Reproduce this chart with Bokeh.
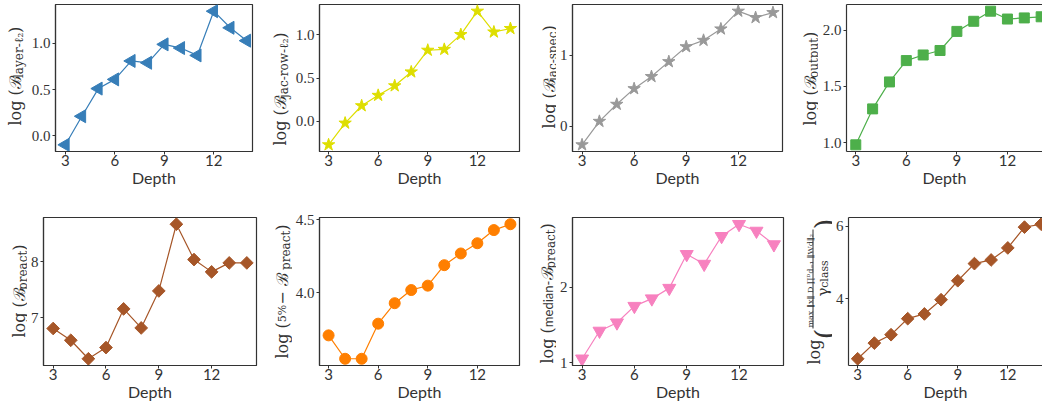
import numpy as np
from bokeh.plotting import figure
from bokeh.layouts import row, column
from bokeh.models import FixedTicker, LinearAxis, Range1d, NumeralTickFormatter, GlobalInlineStyleSheet
from bokeh.core.properties import value
from bokeh.embed import file_html
from bokeh.resources import INLINE

SERIF = "Liberation Serif"
LSERIF = "DejaVu Serif"
SANS = "Lato"
INK = "#333333"

# ---------------- data ----------------
depth = [3, 4, 5, 6, 7, 8, 9, 10, 11, 12, 13, 14]
x_ticks = [3, 6, 9, 12]

layer_l2 = [-0.10, 0.21, 0.51, 0.61, 0.81, 0.79, 0.99, 0.95, 0.87, 1.35, 1.17, 1.03]
jac_row_l2 = [-0.27, -0.02, 0.18, 0.30, 0.41, 0.57, 0.82, 0.83, 1.00, 1.27, 1.03, 1.07]
jac_spec = [-0.26, 0.07, 0.31, 0.53, 0.70, 0.91, 1.12, 1.21, 1.37, 1.62, 1.53, 1.60]
output_b = [0.98, 1.30, 1.54, 1.73, 1.78, 1.82, 1.99, 2.08, 2.17, 2.10, 2.11, 2.12]
preact = [6.81, 6.60, 6.27, 6.47, 7.16, 6.82, 7.48, 8.67, 8.04, 7.82, 7.98, 7.98]
pct5_preact = [3.71, 3.55, 3.55, 3.79, 3.93, 4.02, 4.05, 4.19, 4.27, 4.34, 4.43, 4.47]
median_preact = [1.05, 1.42, 1.53, 1.75, 1.85, 1.99, 2.44, 2.31, 2.68, 2.84, 2.75, 2.57]
margin_bound = [2.36, 2.79, 3.02, 3.46, 3.59, 3.98, 4.50, 4.97, 5.07, 5.40, 5.97, 6.05]

y_ticks_1 = [0.0, 0.5, 1.0]
y_ticks_2 = [0.0, 0.5, 1.0]
y_ticks_3 = [0, 1]
y_ticks_4 = [1.0, 1.5, 2.0]
y_ticks_5 = [7, 8]
y_ticks_6 = [3.5, 4.0, 4.5]
y_ticks_7 = [1, 2]
y_ticks_8 = [4, 6]

colors = ["#377eb8", "#dede00", "#999999", "#4daf4a",
          "#a65628", "#ff7f00", "#f781bf", "#a65628"]

ROW1 = (0, 200, 4, 151)      # top, height, frame top, frame bottom (window px)
ROW2 = (200, 203, 217, 365)

# approximate advance widths (em) used to chain the label pieces
W_SERIF = {'l': .320, 'o': .602, 'g': .640, ' ': .318, '(': .391, ')': .391, 'ℬ': .70,
           'a': .596, 'y': .565, 'e': .592, 'r': .478, '-': .338, 'ℓ': .45, '₂': .40,
           'j': .320, 'c': .560, 'w': .856, 's': .513, 'p': .640, 'u': .644, 't': .402,
           '%': .950, '5': .636, '−': .838, 'γ': .58, 'n': .644}
W_SANS = {'m': .87, 'e': .53, 'd': .58, 'i': .24, 'a': .5, 'n': .56, '-': .36}


def text_len(text, size, font):
    table = W_SANS if font == SANS else W_SERIF
    return sum(table.get(ch, .6) for ch in text) * size


def chain(start, items):
    """items: (text, baseline_x, size[, font]) placed one after another upward."""
    out = []
    y = start
    for it in items:
        text, bx, sz = it[:3]
        font = it[3] if len(it) > 3 else LSERIF
        out.append((text, bx, y, sz, font))
        y -= text_len(text, sz, font)
    return out


def pad_range(vals, frac=0.05):
    lo, hi = min(vals), max(vals)
    d = hi - lo
    return lo - frac * d, hi + frac * d


def strip(left, width, rowgeom, pieces, bar=None):
    """Blank figure whose data coordinates equal window pixels; holds a y label."""
    top, height, ftop, fbot = rowgeom
    s = figure(width=width, height=height, output_backend="svg", toolbar_location=None,
               x_range=Range1d(left, left + width), y_range=Range1d(fbot, ftop),
               x_axis_location=None, y_axis_location=None,
               min_border_left=0, min_border_right=0,
               min_border_top=ftop - top, min_border_bottom=top + height - fbot)
    s.outline_line_color = None
    s.xgrid.visible = False
    s.ygrid.visible = False
    for text, xw, yw, sz, font in pieces:
        s.text(x=[xw], y=[yw], text=[text], angle=np.pi / 2,
               text_font=value(font), text_font_size=value(f"{sz}px"),
               text_color=INK, text_align="left", text_baseline="alphabetic",
               level="overlay")
    if bar is not None:
        bx, by0, by1 = bar
        s.segment(x0=[bx], y0=[by0], x1=[bx], y1=[by1], line_color=INK, line_width=1)
    return s


def panel(vals, color, marker, size, angle, yticks, fmt, width, mbl, mbr, rowgeom, xr,
          clipped=False):
    top, height, ftop, fbot = rowgeom
    y0, y1 = pad_range(vals)
    p = figure(width=width, height=height, output_backend="svg", toolbar_location=None,
               x_range=Range1d(*xr), y_range=Range1d(y0, y1),
               min_border_left=mbl, min_border_right=mbr,
               min_border_top=ftop - top, min_border_bottom=top + height - fbot)
    p.xgrid.visible = False
    p.ygrid.visible = False
    xa = p.below[0]
    ya = p.left[0]
    for ax in (xa, ya):
        ax.major_tick_out = 3
        ax.major_tick_in = 0
        ax.minor_tick_out = 0
        ax.minor_tick_in = 0
        ax.axis_line_color = INK
        ax.axis_line_width = 1.2
        ax.major_tick_line_color = INK
        ax.major_label_text_color = INK
        ax.major_label_text_font_size = "15px"
    xa.ticker = FixedTicker(ticks=x_ticks)
    xa.major_label_text_font = SANS
    xa.major_label_standoff = 0
    xa.axis_label = "Depth"
    xa.axis_label_text_font = SANS
    xa.axis_label_text_font_style = "normal"
    xa.axis_label_text_font_size = "16px"
    xa.axis_label_text_color = INK
    xa.axis_label_standoff = -1
    ya.ticker = FixedTicker(ticks=yticks)
    ya.formatter = NumeralTickFormatter(format=fmt)
    ya.major_label_text_font = SERIF
    ya.major_label_standoff = 2

    if clipped:
        p.outline_line_color = None
        topax = LinearAxis(ticker=FixedTicker(ticks=[]), major_label_text_font_size="0px",
                           major_tick_out=0, major_tick_in=0, minor_tick_out=0,
                           minor_tick_in=0, major_label_standoff=0,
                           axis_line_color=INK, axis_line_width=1.2)
        p.add_layout(topax, "above")
    else:
        p.outline_line_color = INK
        p.outline_line_width = 1.2

    p.line(depth, vals, line_color=color, line_width=1.2)
    p.scatter(depth, vals, marker=marker, size=size, angle=angle,
              fill_color=color, line_color=color, line_width=1)
    return p


XR = (2.45, 14.55)
XR_CLIP = (2.45, 14.08)
M = 16  # main label size
S = 12  # subscript size

# ---------------- row 1 ----------------
s1 = strip(0, 28, ROW1, chain(125, [("log (ℬ", 15, M), ("layer-ℓ₂", 18, S), (")", 15, M)]))
p1 = panel(layer_l2, colors[0], "triangle", 13, np.pi / 2, y_ticks_1, "0.0",
           234, 26, 10, ROW1, (2.40, 14.35))
s2 = strip(262, 30, ROW1, chain(145, [("log (ℬ", 280, M), ("jac-row-ℓ₂", 283, S), (")", 280, M)]))
p2 = panel(jac_row_l2, colors[1], "star", 13, 0, y_ticks_2, "0.0",
           236, 26, 9, ROW1, XR)
s3 = strip(528, 28, ROW1, chain(128, [("log (ℬ", 549, M), ("jac-spec", 552, S), (")", 549, M)]))
p3 = panel(jac_spec, colors[2], "star", 13, 0, y_ticks_3, "0",
           234, 13, 8, ROW1, XR)
s4 = strip(790, 28, ROW1, chain(125, [("log (ℬ", 810, M), ("output", 813, S), (")", 810, M)]))
p4 = panel(output_b, colors[3], "square", 10, 0, y_ticks_4, "0.0",
           224, 28, 0, ROW1, XR_CLIP, clipped=True)

# ---------------- row 2 ----------------
s5 = strip(0, 27, ROW2, chain(337, [("log (ℬ", 19, M), ("preact", 22, S), (")", 19, M)]))
p5 = panel(preact, colors[4], "square", 9, np.pi / 4, y_ticks_5, "0",
           235, 14, 6, ROW2, XR)
s6 = strip(262, 30, ROW2, chain(358, [("log (", 282, M), ("5%", 282, 11), (" − ℬ", 282, M),
                                      ("preact", 285, S), (")", 282, M)]))
p6 = panel(pct5_preact, colors[5], "circle", 11, 0, y_ticks_6, "0.0",
           236, 26, 9, ROW2, XR)
s7 = strip(528, 28, ROW2, chain(363, [("log (", 547, M), ("median-", 547, 13, SANS), ("ℬ", 547, M),
                                      ("preact", 550, S), (")", 547, M)]))
p7 = panel(median_preact, colors[6], "inverted_triangle", 13, 0, y_ticks_7, "0",
           234, 13, 7, ROW2, XR)
s8 = strip(790, 42, ROW2,
           chain(364, [("log", 814, M), ("(", 825, 28)])
           + [("max ‖x‖ D ∏ᴰd₌₁ ‖Wd‖₂", 810, 327, 8, LSERIF)]
           + chain(296, [("γ", 822, 15), ("class", 824, 11)])
           + [(")", 825, 229, 28, LSERIF)],
           bar=(812.5, 328, 229))
p8 = panel(margin_bound, colors[7], "square", 9, np.pi / 4, y_ticks_8, "0",
           210, 14, 0, ROW2, XR_CLIP, clipped=True)

layout = column(row(s1, p1, s2, p2, s3, p3, s4, p4),
                row(s5, p5, s6, p6, s7, p7, s8, p8),
                stylesheets=[GlobalInlineStyleSheet(css="html, body { margin: 0 !important; padding: 0; overflow: hidden; }")])

open("out.html", "w").write(file_html(layout, INLINE))
